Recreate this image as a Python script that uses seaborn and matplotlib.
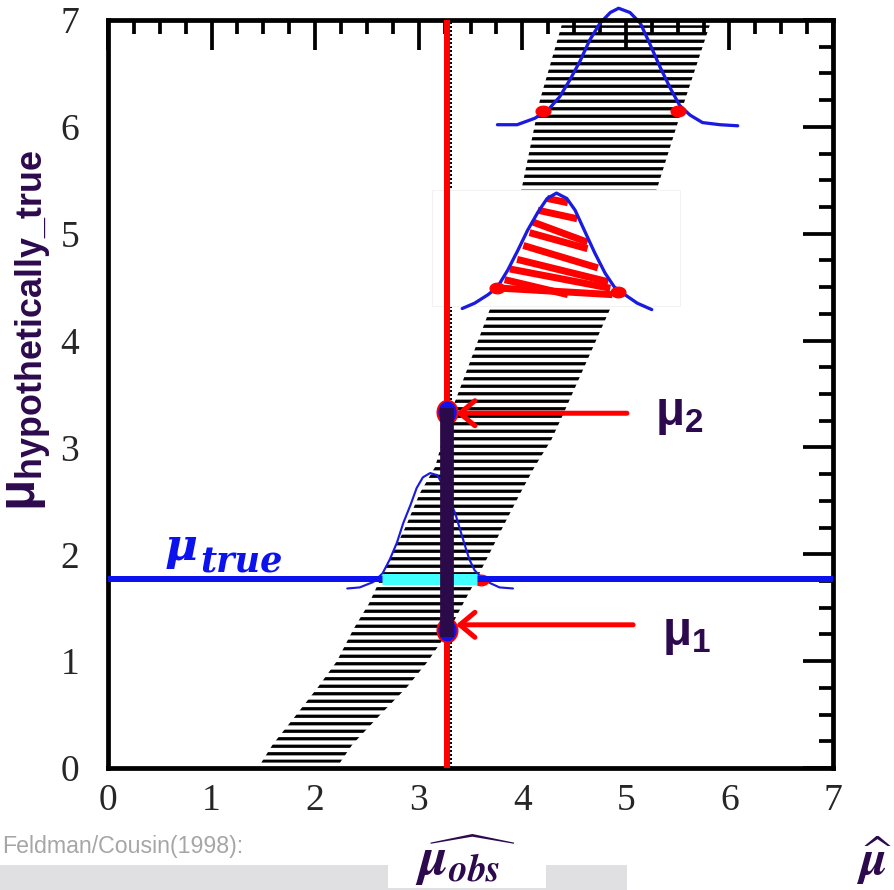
import matplotlib
matplotlib.use("Agg")
import matplotlib.pyplot as plt
import seaborn as sns
from matplotlib.ticker import MultipleLocator
from matplotlib.markers import MarkerStyle
from matplotlib.transforms import Affine2D
from matplotlib.patches import Rectangle

# confidence belt edges
belt_y = [0.05, 0.22, 0.5, 0.76, 1.0, 1.3, 1.54, 1.81, 2.25, 2.57, 2.82, 3.07, 3.3, 4.3, 5.45, 6.25, 6.95]
belt_left = [1.48, 1.59, 1.82, 2.03, 2.21, 2.37, 2.52, 2.65, 2.87, 3.01, 3.16, 3.23, 3.30, 3.69, 4.0, 4.17, 4.38]
belt_right = [2.24, 2.36, 2.63, 2.89, 3.09, 3.30, 3.43, 3.58, 3.81, 3.98, 4.12, 4.28, 4.39, 4.85, 5.31, 5.57, 5.81]

# gaussian at the top of the belt
top_x = [3.76, 3.95, 4.12, 4.25, 4.36, 4.46, 4.56, 4.65, 4.75, 4.85, 4.93, 5.04, 5.14,
         5.23, 5.33, 5.43, 5.52, 5.62, 5.74, 5.91, 6.08]
top_y = [6.02, 6.02, 6.08, 6.16, 6.28, 6.44, 6.62, 6.81, 6.97, 7.07, 7.11, 7.07, 6.97,
         6.78, 6.56, 6.36, 6.20, 6.11, 6.04, 6.02, 6.01]
top_dots_x = [4.20, 5.50]
top_dots_y = [6.15, 6.15]

# gaussian in the white box (red hatched)
mid_x = [3.42, 3.54, 3.67, 3.76, 3.86, 3.96, 4.05, 4.15, 4.24, 4.33, 4.43, 4.51, 4.60,
         4.70, 4.80, 4.89, 4.99, 5.11, 5.25]
mid_y = [4.30, 4.35, 4.43, 4.50, 4.66, 4.85, 5.03, 5.20, 5.33, 5.38, 5.33, 5.22, 5.03,
         4.82, 4.63, 4.50, 4.43, 4.35, 4.29]
mid_dots_x = [3.76, 4.92]
mid_dots_y = [4.49, 4.45]
hatch_x0 = [4.24, 4.15, 4.10, 4.07, 4.01, 3.95, 3.88, 3.83, 3.80]
hatch_y0 = [5.33, 5.22, 5.11, 5.01, 4.89, 4.76, 4.67, 4.57, 4.49]
hatch_x1 = [4.44, 4.53, 4.63, 4.63, 4.73, 4.83, 4.85, 4.44, 4.87]
hatch_y1 = [5.29, 5.14, 4.92, 4.86, 4.68, 4.55, 4.49, 4.43, 4.43]
box_x = [3.13, 5.52]
box_y = [4.32, 5.41]

# gaussian around mu_true
low_x = [2.31, 2.43, 2.56, 2.65, 2.72, 2.79, 2.85, 2.92, 2.98, 3.04, 3.11, 3.18, 3.22,
         3.35, 3.40, 3.45, 3.49, 3.54, 3.61, 3.69, 3.78, 3.91]
low_y = [1.68, 1.69, 1.74, 1.82, 1.95, 2.11, 2.29, 2.46, 2.62, 2.72, 2.76, 2.74, 2.67,
         2.39, 2.23, 2.07, 1.95, 1.85, 1.78, 1.73, 1.69, 1.68]

mu_obs = 3.27
mu_true = 1.77
mu_1 = 1.29
mu_2 = 3.33
true_lo, true_hi = 2.65, 3.56

purple = "#2D0A4E"
blue = "#0B12EE"
curve_blue = "#1A1AE0"

sns.set_style("white")
plt.rcParams["font.family"] = ["Liberation Sans", "DejaVu Sans"]
plt.rcParams["mathtext.fontset"] = "custom"
plt.rcParams["mathtext.bf"] = "Liberation Sans:bold"
plt.rcParams["mathtext.rm"] = "Liberation Sans:bold"
plt.rcParams["mathtext.it"] = "DejaVu Serif:italic:bold"
plt.rcParams["hatch.linewidth"] = 2.6

fig = plt.figure(figsize=(894 / 90, 890 / 90), dpi=90)
ax = fig.add_axes([108 / 894, 122 / 890, 725 / 894, 748 / 890])

# belt
ax.fill(belt_left + belt_right[::-1], belt_y + belt_y[::-1],
        facecolor="none", edgecolor="black", linewidth=0, hatch="--", zorder=1)
ax.axvline(3.31, color="black", lw=1.6, ls=(0, (1, 1)), zorder=1.5)

# white patch with the hatched gaussian
ax.add_patch(Rectangle((box_x[0], box_y[0]), box_x[1] - box_x[0], box_y[1] - box_y[0],
                       facecolor="white", edgecolor="#f2f2f2", lw=0.8, zorder=2))
for x0, y0, x1, y1 in zip(hatch_x0, hatch_y0, hatch_x1, hatch_y1):
    ax.plot([x0, x1], [y0, y1], color="red", lw=5.6, solid_capstyle="butt", zorder=2.6)

dot = MarkerStyle("o", transform=Affine2D().scale(1.4, 1.0))
sns.lineplot(x=top_x, y=top_y, ax=ax, color=curve_blue, lw=2.6, sort=False,
             estimator=None, clip_on=False, zorder=2.5)
sns.lineplot(x=mid_x, y=mid_y, ax=ax, color=curve_blue, lw=2.6, sort=False,
             estimator=None, zorder=2.7)
ax.plot(top_dots_x, top_dots_y, ls="none", marker=dot, ms=8.5, color="red", zorder=2.8)
ax.plot(mid_dots_x, mid_dots_y, ls="none", marker=dot, ms=8.5, color="red", zorder=2.8)

# mu_true line and its gaussian
sns.lineplot(x=low_x, y=low_y, ax=ax, color=curve_blue, lw=1.7, sort=False,
             estimator=None, zorder=2.5)
ax.plot([true_hi + 0.04], [mu_true - 0.01], ls="none", marker=dot, ms=8.5, color="red", zorder=2.8)
ax.axhline(mu_true, color=blue, lw=4.8, zorder=3)
ax.plot([true_lo, true_hi], [mu_true - 0.005, mu_true - 0.005], color="#40FFFF", lw=8.8,
        solid_capstyle="butt", zorder=3.2)

# observed value and interval
ax.axvline(mu_obs, color="red", lw=4.8, zorder=3.5)
ell = MarkerStyle("o", transform=Affine2D().scale(0.85, 1.0))
ax.plot([mu_obs, mu_obs], [mu_1, mu_2], ls="none", marker=ell, ms=19,
        markerfacecolor="#1010F0", markeredgecolor="red", markeredgewidth=1.5, zorder=3.6)
ax.plot([mu_obs, mu_obs], [mu_1 - 0.06, mu_2 + 0.04], color="#2A0A48", lw=11,
        solid_capstyle="butt", zorder=3.7)

for y_tip, y_lab, x_start, x_lab, sub in [(mu_2 - 0.01, 3.21, 5.01, 5.28, "2"),
                                          (mu_1 + 0.05, 1.15, 5.07, 5.35, "1")]:
    ax.annotate("", xy=(3.36, y_tip), xytext=(x_start, y_tip),
                arrowprops=dict(arrowstyle="->,head_length=0.6,head_width=0.5", color="red",
                                lw=4, mutation_scale=20, shrinkA=0, shrinkB=0), zorder=4)
    ax.text(x_lab, y_lab, "μ$_{\\mathbf{" + sub + "}}$", color=purple, fontsize=38,
            fontweight="bold", ha="left", va="baseline", zorder=4)

ax.text(0.55, 1.946, "μ", family="DejaVu Serif", style="italic", weight="bold",
        fontsize=36, color=blue, va="baseline", ha="left")
ax.text(0.888, 1.833, "true", family="DejaVu Serif", style="italic", weight="bold",
        fontsize=28, color=blue, va="baseline", ha="left")

# axes styling
ax.set_xlim(0, 7)
ax.set_ylim(0, 7)
ax.xaxis.set_major_locator(MultipleLocator(1))
ax.yaxis.set_major_locator(MultipleLocator(1))
ax.xaxis.set_minor_locator(MultipleLocator(0.25))
ax.yaxis.set_minor_locator(MultipleLocator(0.25))
ax.tick_params(which="both", direction="in", top=True, right=True, color="black")
ax.tick_params(which="major", length=24, width=3)
ax.tick_params(which="minor", length=11, width=3)
ax.tick_params(axis="x", pad=12)
ax.tick_params(axis="y", pad=23)
ax.tick_params(labelsize=30, labelcolor="#262626", labelfontfamily="Liberation Serif")
for s in ax.spines.values():
    s.set_linewidth(3.8)
    s.set_color("black")

fig.text(30 / 894, 1 - 330 / 890, "μ$_{\\mathbf{hypothetically\\_true}}$", rotation=90,
         ha="center", va="center", color=purple, fontsize=41, fontweight="bold")

# footer
fig.patches.append(Rectangle((0, 0), 627 / 894, 25 / 890, transform=fig.transFigure,
                             facecolor="#E0E0E2", edgecolor="none", figure=fig))
fig.patches.append(Rectangle((388 / 894, 2 / 890), 158 / 894, 45 / 890, transform=fig.transFigure,
                             facecolor="white", edgecolor="none", figure=fig))
fig.text(2 / 894, 1 - 853 / 890, "Feldman/Cousin(1998):", color="#A6A6A6", fontsize=18.5,
         ha="left", va="baseline")
fig.text(466 / 894, 1 - 875 / 890, r"$\widehat{\mathbfit{\mu}_{\mathbfit{obs}}}$",
         math_fontfamily="stix", color=purple, fontsize=43, ha="center", va="baseline")
fig.text(856 / 894, 1 - 875 / 890, r"$\widehat{\mathbfit{\mu}}$",
         math_fontfamily="stix", color=purple, fontsize=40, ha="left", va="baseline")

fig.savefig("out.png", dpi=90)
